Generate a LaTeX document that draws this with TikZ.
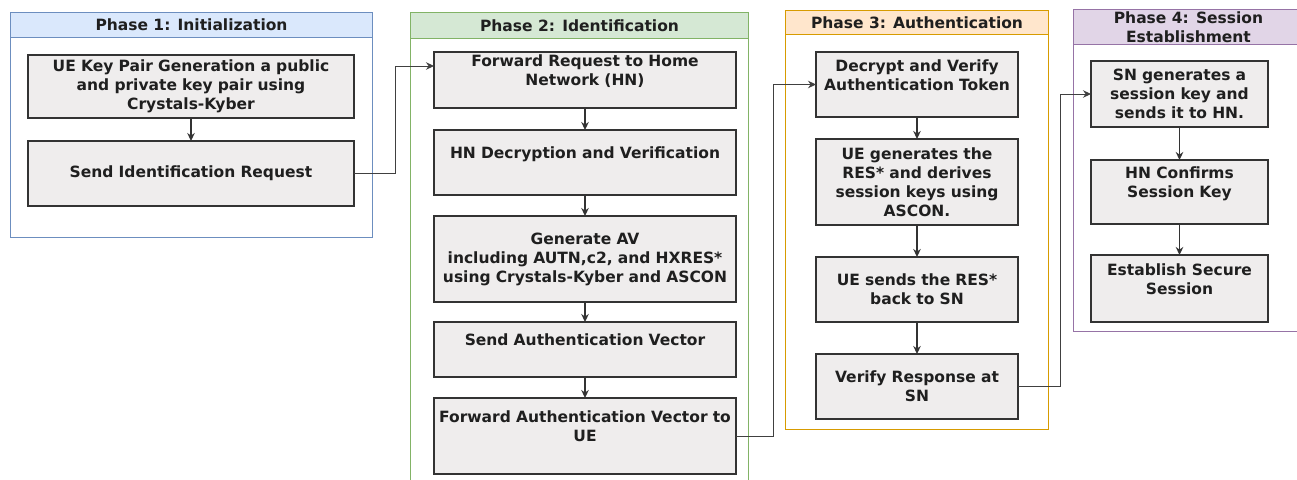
\documentclass[tikz,border=0pt]{standalone}
\usepackage{fontspec}
\setmainfont{DejaVu Sans}
\usetikzlibrary{positioning, backgrounds, arrows.meta}

\definecolor{boxfill}{HTML}{EFEDED}
\definecolor{boxline}{HTML}{333333}
\definecolor{blueline}{HTML}{6C8EBF}
\definecolor{bluefill}{HTML}{DAE8FC}
\definecolor{greenline}{HTML}{82B366}
\definecolor{greenfill}{HTML}{D5E8D4}
\definecolor{orangeline}{HTML}{D79B00}
\definecolor{orangefill}{HTML}{FFE6CC}
\definecolor{purpleline}{HTML}{9673A6}
\definecolor{purplefill}{HTML}{E1D5E7}

% empty last line, lifts the text of a box
\newcommand{\padline}{\\\mbox{}}

\begin{document}
\begin{tikzpicture}[
      x=1pt, y=-1pt,
      font=\bfseries\fontsize{15.5}{19}\selectfont,
      every node/.style={align=center, text=black!88},
      stepbox/.style={draw=boxline, line width=2.5pt, fill=boxfill, inner xsep=3pt,
                      inner ysep=0pt, outer sep=0pt, minimum height=#1},
      p1box/.style={text width=320pt},
      p2box/.style={text width=296pt},
      p3box/.style={text width=196pt},
      p4box/.style={text width=171pt},
      arrow/.style={-{Stealth[length=8pt, width=7.5pt]}, line width=1.3pt, draw=boxline},
      link/.style={arrow, line width=1pt, draw=black!75},
      frame/.style={draw=#1, line width=1pt, fill=white, anchor=north west, inner sep=0pt},
      header/.style={draw=#1, line width=1pt, anchor=north west, inner sep=0pt}
  ]
  \useasboundingbox (0,0) rectangle (1297,479);

  % Nodes ------------------------------------------------
  % Phase 1
  \node[stepbox=63pt, p1box, anchor=north] (keygen) at (191,55)
       {UE Key Pair Generation a public\\ and private key pair using\\ Crystals-Kyber};
  \node[stepbox=65pt, p1box, below=23pt of keygen] (idreq) {Send Identification Request};

  % Phase 2
  \node[stepbox=56pt, p2box, anchor=north] (fwdreq) at (585,52)
       {Forward Request to Home\\ Network (HN)\padline};
  \node[stepbox=65pt, p2box, below=22pt of fwdreq] (hndec) {HN Decryption and Verification\padline};
  \node[stepbox=86pt, p2box, below=21pt of hndec] (genav)
       {Generate AV\\ including AUTN,c2, and HXRES*\\ using Crystals-Kyber and ASCON};
  \node[stepbox=55pt, p2box, below=20pt of genav] (sendav) {Send Authentication Vector\padline};
  \node[stepbox=76pt, p2box, below=21pt of sendav] (fwdav)
       {Forward Authentication Vector to\\ UE\padline};

  % Phase 3
  \node[stepbox=65pt, p3box, anchor=north] (dectok) at (917,52)
       {Decrypt and Verify\\ Authentication Token\padline};
  \node[stepbox=86pt, p3box, below=22pt of dectok] (genres)
       {UE generates the\\ RES* and derives\\ session keys using\\ ASCON.};
  \node[stepbox=65pt, p3box, below=32pt of genres] (sendres) {UE sends the RES*\\ back to SN};
  \node[stepbox=65pt, p3box, below=32pt of sendres] (verres) {Verify Response at\\ SN};

  % Phase 4
  \node[stepbox=66pt, p4box, anchor=north] (genkey) at (1179.5,61)
       {SN generates a\\ session key and\\ sends it to HN.};
  \node[stepbox=64pt, p4box, below=33pt of genkey] (confkey) {HN Confirms\\ Session Key\padline};
  \node[stepbox=67pt, p4box, below=31pt of confkey] (secure) {Establish Secure\\ Session\padline};

  % Arrows ------------------------------------------------
  \draw[arrow] (keygen) -- (idreq);
  \draw[arrow] (fwdreq) -- (hndec);
  \draw[arrow] (hndec) -- (genav);
  \draw[arrow] (genav) -- (sendav);
  \draw[arrow] (sendav) -- (fwdav);
  \draw[arrow] (dectok) -- (genres);
  \draw[arrow] (genres) -- (sendres);
  \draw[arrow] (sendres) -- (verres);
  \draw[arrow] (genkey) -- (confkey);
  \draw[arrow] (confkey) -- (secure);
  \draw[link] (idreq.east) -- ++(41,0) |- ([yshift=14pt]fwdreq.west);   % to phase 2
  \draw[link] (fwdav.east) -- ++(37,0) |- (dectok.west);                % to phase 3
  \draw[link] (verres.east) -- ++(42,0) |- (genkey.west);               % to phase 4

  % Phase frames
  \begin{pgfonlayer}{background}
      \node[frame=blueline, minimum width=362pt, minimum height=225pt] (init) at (10,12) {};
      \node[header=blueline, fill=bluefill, minimum width=362pt, minimum height=25pt]
           (inithead) at (10,12) {Phase 1: Initialization};
      \node[frame=greenline, minimum width=338pt, minimum height=480pt] (ident) at (410,12) {};
      \node[header=greenline, fill=greenfill, minimum width=338pt, minimum height=26pt]
           (identhead) at (410,12) {Phase 2: Identification};
      \node[frame=orangeline, minimum width=263pt, minimum height=419pt] (auth) at (785,10) {};
      \node[header=orangeline, fill=orangefill, minimum width=263pt, minimum height=24pt]
           (authhead) at (785,10) {Phase 3: Authentication};
      \node[frame=purpleline, minimum width=230pt, minimum height=322pt] (sess) at (1073,9) {};
      \node[header=purpleline, fill=purplefill, minimum width=230pt, minimum height=35pt]
           (sesshead) at (1073,9) {Phase 4: Session\\ Establishment};
  \end{pgfonlayer}
\end{tikzpicture}
\end{document}
